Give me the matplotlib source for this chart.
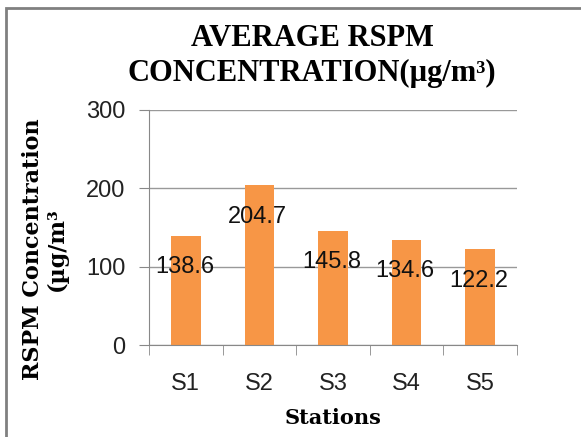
import matplotlib.pyplot as plt
import numpy as np

stations = ["S1", "S2", "S3", "S4", "S5"]
rspm = [138.6, 204.7, 145.8, 134.6, 122.2]
yticks = [0, 100, 200, 300]

fig = plt.figure(figsize=(5.81, 4.37), dpi=100)
ax = fig.add_axes([149 / 581, 1 - 345 / 437, 368 / 581, 235 / 437])

x = np.arange(len(stations))
ax.bar(x, rspm, width=0.4, color="#F79646", zorder=2)

# data labels sit at odd heights in the original, so place them by hand
label_y = [100, 164, 106, 95, 82]
for xi, v, ly in zip(x, rspm, label_y):
    ax.text(xi - 0.02, ly, f"{v}", ha="center", va="center", fontsize=17,
            family="Liberation Sans", color="#111111", zorder=3)

ax.set_xlim(-0.5, len(stations) - 0.5)
ax.set_ylim(0, 300)
ax.set_yticks(yticks)
ax.set_xticks(x)
ax.set_xticklabels(stations)
ax.set_xticks(np.arange(-0.5, len(stations)), minor=True)
ax.tick_params(axis="x", which="major", length=0, pad=20, labelsize=17, labelcolor="#222222")
ax.tick_params(axis="x", which="minor", length=7, color="#888888", direction="out")
ax.tick_params(axis="y", length=7, color="#888888", labelsize=17, labelcolor="#222222", pad=10)
for lab in ax.get_xticklabels() + ax.get_yticklabels():
    lab.set_family("Liberation Sans")

ax.grid(axis="y", color="#999999", linewidth=1, zorder=0)
for s in ["top", "right"]:
    ax.spines[s].set_visible(False)
for s in ["left", "bottom"]:
    ax.spines[s].set_color("#888888")

fig.text(312 / 581, 0.946, "AVERAGE RSPM\nCONCENTRATION(µg/m³)", ha="center", va="top",
         fontsize=22, fontweight="bold", family="Liberation Serif", linespacing=1.28)
fig.text(333 / 581, 1 - 418 / 437, "Stations", ha="center", va="center",
         fontsize=15, fontweight="bold", family="DejaVu Serif")
fig.text(45 / 581, 1 - 249 / 437, "RSPM Concentration\n(µg/m³", ha="center", va="center",
         rotation=90, fontsize=16, fontweight="bold", family="DejaVu Serif",
         linespacing=1.1)

# outer chart border
fig.patches.append(plt.Rectangle((6 / 581, -0.1), 1.2, 1 - 8 / 437 + 0.1,
                                 transform=fig.transFigure, fill=False,
                                 edgecolor="#808080", linewidth=2))

fig.savefig("out.png", dpi=100)
